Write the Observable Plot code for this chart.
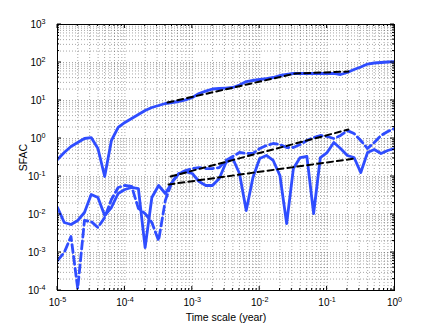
<!DOCTYPE html>
<html><head><meta charset="utf-8">
<script src="https://cdn.jsdelivr.net/npm/d3@7"></script>
<script src="https://cdn.jsdelivr.net/npm/@observablehq/plot@0.6"></script>
<style>
body{margin:0;background:#fff;}
svg{font-family:"Liberation Sans",Arial,Helvetica,sans-serif;}
</style></head><body><div id="chart"></div>
<script>
// time scale (years), 10 samples per decade
const times = [
  1.000e-5,1.259e-5,1.585e-5,1.995e-5,2.512e-5,3.162e-5,3.981e-5,5.012e-5,6.310e-5,7.943e-5,
  1.000e-4,1.259e-4,1.585e-4,1.995e-4,2.512e-4,3.162e-4,3.981e-4,5.012e-4,6.310e-4,7.943e-4,
  1.000e-3,1.259e-3,1.585e-3,1.995e-3,2.512e-3,3.162e-3,3.981e-3,5.012e-3,6.310e-3,7.943e-3,
  1.000e-2,1.259e-2,1.585e-2,1.995e-2,2.512e-2,3.162e-2,3.981e-2,5.012e-2,6.310e-2,7.943e-2,
  1.000e-1,1.259e-1,1.585e-1,1.995e-1,2.512e-1,3.162e-1,3.981e-1,5.012e-1,6.310e-1,7.943e-1,
  1.000
];
const topSolid = [
  0.280,0.428,0.616,0.785,1.0,1.06,0.546,0.10,0.886,1.95,
  2.64,3.36,4.28,5.46,6.54,7.39,8.34,8.86,9.41,10.4,
  12.0,15.3,17.6,20.1,20.7,21.3,22.0,25.6,31.6,33.6,
  35.7,37.9,40.3,45.5,48.3,51.4,51.4,51.4,51.4,51.4,
  51.4,51.4,48.3,54.6,65.4,76.2,91.2,97.0,100,103,
  106
];
const bottomSolid = [
  0.0153,0.00615,0.00546,0.00695,0.0113,0.0336,0.0280,0.00941,0.0153,0.0357,
  0.0455,0.0514,0.0483,0.00135,0.0280,0.0580,0.0357,0.0695,0.120,0.135,
  0.120,0.0738,0.0580,0.0580,0.0886,0.234,0.298,0.120,0.0127,0.0941,
  0.298,0.357,0.264,0.106,0.00580,0.162,0.316,0.336,0.0106,0.316,
  0.428,0.785,0.546,0.357,0.316,0.127,0.428,0.514,0.403,0.483,
  0.546
];
const bottomDashed = [
  0.000615,0.00100,0.00264,0.000113,0.00695,0.00655,0.00455,0.00834,0.0248,0.0514,
  0.0580,0.0546,0.0145,0.0106,0.00615,0.00207,0.0235,0.0738,0.120,0.144,
  0.162,0.172,0.162,0.162,0.172,0.264,0.336,0.428,0.403,0.403,
  0.546,0.654,0.739,0.695,0.580,0.580,0.695,0.886,1.06,1.20,
  1.13,1.00,1.20,1.62,1.35,0.886,0.546,0.785,1.20,1.53,
  1.83
];
// fitted power-law segments [time, SFAC]
const fitTopX = [4.29e-4, 0.0340, 0.207], fitTopY = [8.86, 51.4, 58.0];
const fitUpperX = [4.75e-4, 0.207], fitUpperY = [0.100, 1.72];
const fitLowerX = [4.44e-4, 0.264], fitLowerY = [0.0617, 0.298];

const xMajor = [1e-5,1e-4,1e-3,1e-2,1e-1,1];
const xExp = ["-5","-4","-3","-2","-1","0"];
const yMajor = [1e-4,1e-3,1e-2,1e-1,1,1e1,1e2,1e3];
const yExp = ["-4","-3","-2","-1","0","1","2","3"];

const blue = "#2f4dff";
const xMinor = d3.scaleLog().domain([1e-5,1]).ticks();
const yMinor = d3.scaleLog().domain([1e-4,1e3]).ticks();
const series = ys => times.map((t,i)=>({x:t,y:ys[i]}));
const seg = (xs,ys) => xs.map((x,i)=>({x, y:ys[i]}));
const nearest = (arr, d) => arr.findIndex(v => Math.abs(Math.log10(v) - Math.log10(d)) < 1e-6);

const chart = Plot.plot({
  width: 436, height: 327,
  marginLeft: 57, marginRight: 42, marginTop: 24, marginBottom: 37,
  style: {fontFamily: '"Liberation Sans",Arial,Helvetica,sans-serif', fontSize: "10px", background: "#fff"},
  x: {type: "log", domain: [1e-5, 1], ticks: xMajor, tickSize: 0, tickPadding: 8,
      tickFormat: d => "10^" + xExp[nearest(xMajor, d)],
      label: "Time scale (year)", labelAnchor: "center", labelOffset: 30, labelArrow: false},
  y: {type: "log", domain: [1e-4, 1e3], ticks: yMajor, tickSize: 0, tickPadding: 12,
      tickFormat: d => "10^" + yExp[nearest(yMajor, d)],
      label: "SFAC", labelAnchor: "center", labelOffset: 38, labelArrow: false},
  marks: [
    Plot.ruleX(xMinor, {stroke: "#000", strokeOpacity: 0.35, strokeDasharray: "1,2"}),
    Plot.ruleY(yMinor, {stroke: "#000", strokeOpacity: 0.35, strokeDasharray: "1,2"}),
    Plot.line(series(topSolid), {x: "x", y: "y", stroke: blue, strokeWidth: 2.8, clip: true}),
    Plot.line(series(bottomSolid), {x: "x", y: "y", stroke: blue, strokeWidth: 2.8, clip: true}),
    Plot.line(series(bottomDashed), {x: "x", y: "y", stroke: blue, strokeWidth: 2.8, strokeDasharray: "8,4", clip: true}),
    Plot.line(seg(fitTopX, fitTopY), {x: "x", y: "y", stroke: "#000", strokeWidth: 2, strokeDasharray: "6,4"}),
    Plot.line(seg(fitUpperX, fitUpperY), {x: "x", y: "y", stroke: "#000", strokeWidth: 2, strokeDasharray: "6,4"}),
    Plot.line(seg(fitLowerX, fitLowerY), {x: "x", y: "y", stroke: "#000", strokeWidth: 2, strokeDasharray: "6,4"}),
    Plot.frame({stroke: "#000", strokeWidth: 1})
  ]
});

document.getElementById("chart").appendChild(chart);
const svg = d3.select(chart);
svg.selectAll('g[aria-label$="tick label"] text').each(function(){
  const s = this.textContent;
  const parts = s.split("^");
  if (parts.length < 2) return;
  const t = d3.select(this);
  t.text(parts[0]);
  t.append("tspan").attr("dy", "-0.5em").attr("font-size", "0.72em").text(parts[1]);
});
svg.selectAll('g[aria-label$="label"] text').filter(function(){return this.textContent==="SFAC"||this.textContent==="Time scale (year)";}).attr("font-size","10.5px");

// inward tick marks on all four sides
const sx = chart.scale("x"), sy = chart.scale("y");
const xl = sx.apply(1e-5), xr = sx.apply(1), yb = sy.apply(1e-4), yt = sy.apply(1e3);
const isMajor = v => Math.abs(Math.log10(v) - Math.round(Math.log10(v))) < 1e-9;
const tg = svg.append("g").attr("stroke", "#000").attr("stroke-width", 1);
xMinor.forEach(v => {
  const p = sx.apply(v), L = isMajor(v) ? 4 : 2;
  tg.append("line").attr("x1", p).attr("x2", p).attr("y1", yb).attr("y2", yb - L);
  tg.append("line").attr("x1", p).attr("x2", p).attr("y1", yt).attr("y2", yt + L);
});
yMinor.forEach(v => {
  const p = sy.apply(v), L = isMajor(v) ? 4 : 2;
  tg.append("line").attr("y1", p).attr("y2", p).attr("x1", xl).attr("x2", xl + L);
  tg.append("line").attr("y1", p).attr("y2", p).attr("x1", xr).attr("x2", xr - L);
});
</script></body></html>
